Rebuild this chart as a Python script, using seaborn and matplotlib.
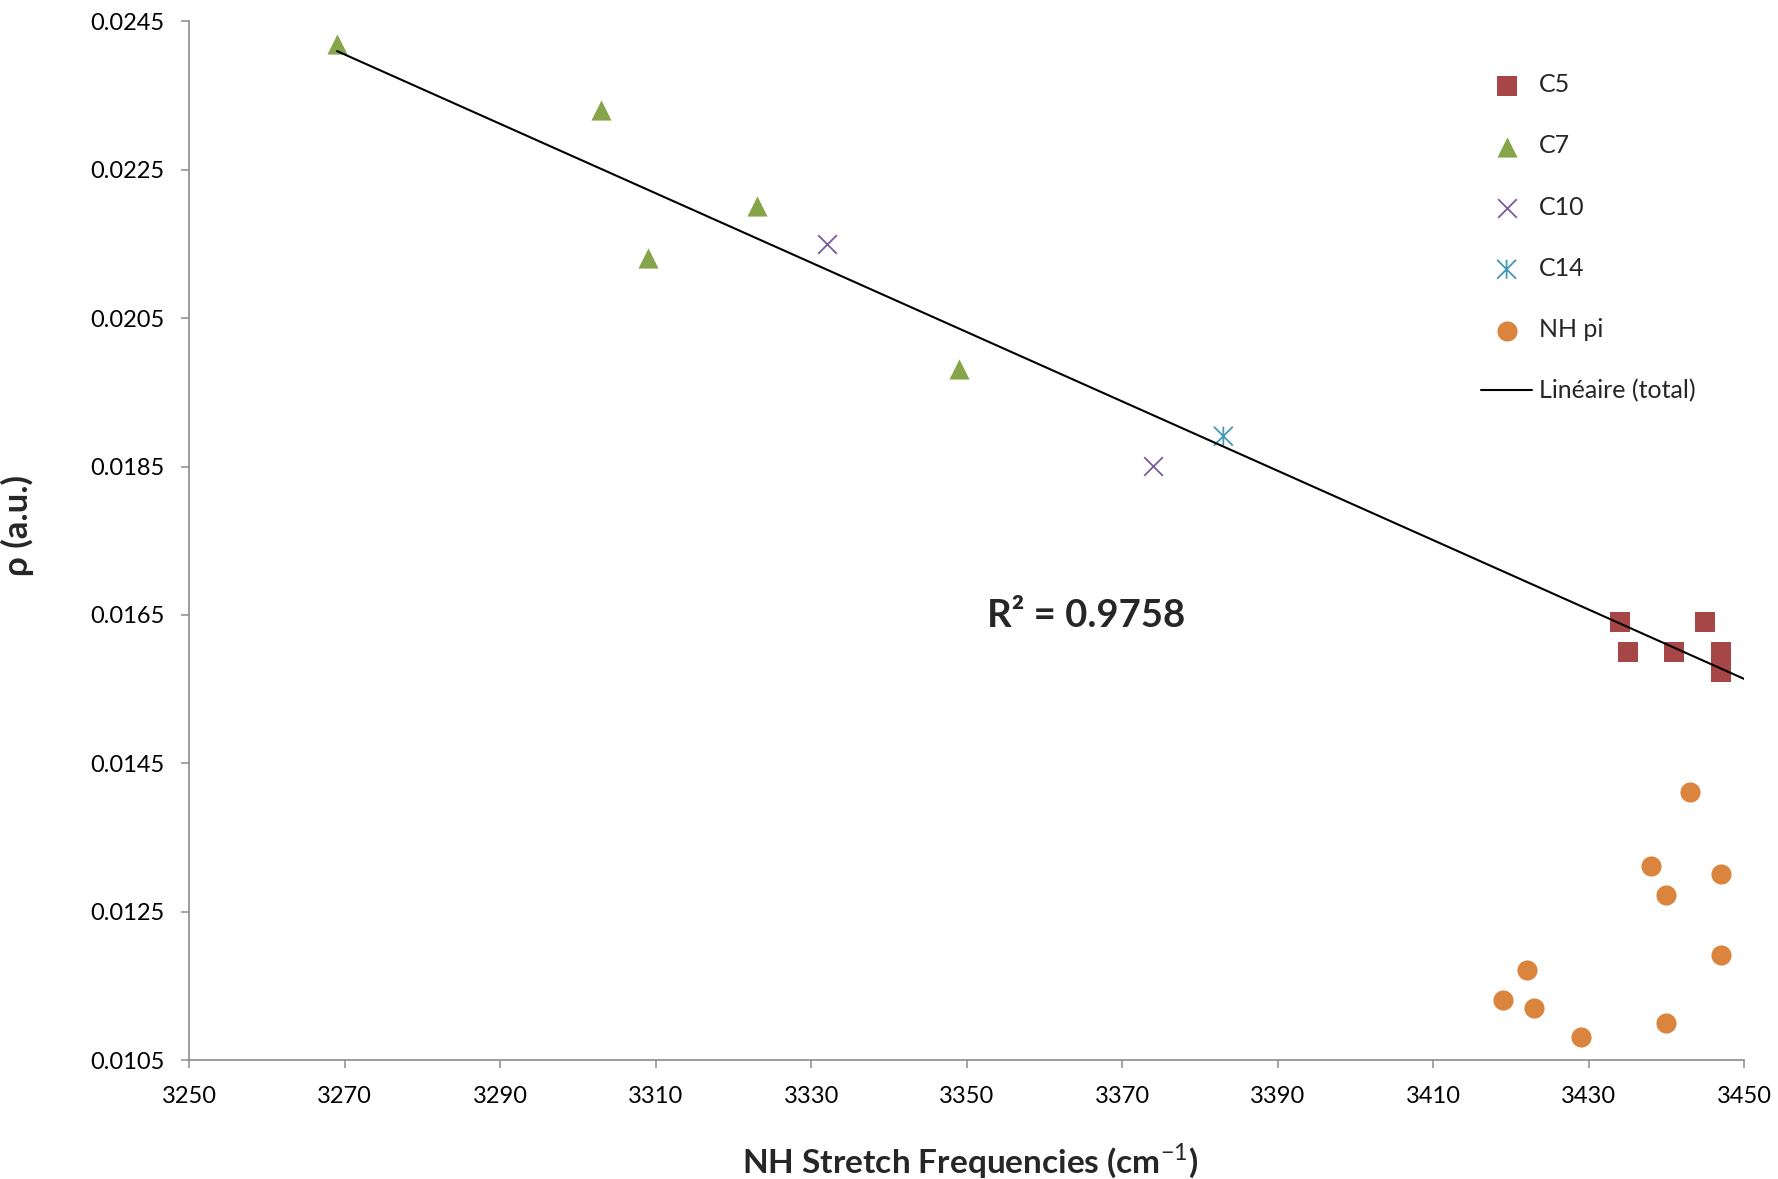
import numpy as np
import matplotlib
matplotlib.use("Agg")
import matplotlib.pyplot as plt
from matplotlib.path import Path
import seaborn as sns

# NH stretch frequency (cm-1) vs electron density rho (a.u.) per H-bond type
c5_x = [3434, 3445, 3435, 3441, 3447, 3447]
c5_y = [0.01641, 0.01641, 0.01600, 0.01600, 0.01600, 0.01573]

c7_x = [3269, 3303, 3323, 3309, 3349]
c7_y = [0.02419, 0.02331, 0.02201, 0.02131, 0.01981]

c10_x = [3332, 3374]
c10_y = [0.02150, 0.01851]

c14_x = [3383]
c14_y = [0.01891]

nhpi_x = [3443, 3438, 3447, 3440, 3447, 3422, 3419, 3423, 3440, 3429]
nhpi_y = [0.01411, 0.01311, 0.01301, 0.01272, 0.01191, 0.01171, 0.01131, 0.01120, 0.01100, 0.01081]

r2_label = "R\u00b2 = 0.9758"

x_ticks = list(range(3250, 3451, 20))
y_ticks = [0.0105, 0.0125, 0.0145, 0.0165, 0.0185, 0.0205, 0.0225, 0.0245]

sns.set_style("white")
plt.rcParams["font.family"] = ["Lato", "DejaVu Sans"]
plt.rcParams["mathtext.fontset"] = "custom"
plt.rcParams["mathtext.rm"] = "Lato"
plt.rcParams["mathtext.bf"] = "Lato:bold"

fig = plt.figure(figsize=(17.78, 11.79), dpi=100)
ax = fig.add_axes([0.1065, 0.1009, 0.8745, 0.8809])

# Excel-style star marker: an X with a vertical bar through it
star = Path(
    [(-0.5, -0.5), (0.5, 0.5), (-0.5, 0.5), (0.5, -0.5), (0.0, -0.5), (0.0, 0.5)],
    [Path.MOVETO, Path.LINETO, Path.MOVETO, Path.LINETO, Path.MOVETO, Path.LINETO],
)

sns.scatterplot(x=c5_x, y=c5_y, marker="s", color="#A64646", s=200,
                linewidth=0, label="C5", ax=ax, zorder=3)
sns.scatterplot(x=c7_x, y=c7_y, marker="^", color="#86A44A", s=210,
                linewidth=0, label="C7", ax=ax, zorder=3)
sns.scatterplot(x=c10_x, y=c10_y, marker="x", color="#7A5C9B", s=180,
                linewidth=1.3, label="C10", ax=ax, zorder=3)
sns.scatterplot(x=c14_x, y=c14_y, marker=star, color="#4298B5",
                facecolor="none", edgecolor="#4298B5", s=185,
                linewidth=1.3, label="C14", ax=ax, zorder=3)
sns.scatterplot(x=nhpi_x, y=nhpi_y, marker="o", color="#DB843D", s=210,
                linewidth=0, label="NH pi", ax=ax, zorder=3)

# Linear trend over all H-bonded conformers (C5, C7, C10, C14)
tot_x = np.array(c5_x + c7_x + c10_x + c14_x, dtype=float)
tot_y = np.array(c5_y + c7_y + c10_y + c14_y, dtype=float)
slope, intercept = np.polyfit(tot_x, tot_y, 1)
fit_x = np.array([tot_x.min(), 3450.0])
fit_y = slope * fit_x + intercept
sns.lineplot(x=fit_x, y=fit_y, color="black", linewidth=1.5,
             label="Lin\u00e9aire (total)", ax=ax, zorder=4)

ax.text(3352.6, 0.01649, r2_label, fontsize=27.5, fontweight="bold",
        ha="left", va="center")

ax.set_xlim(3250, 3450)
ax.set_ylim(0.0105, 0.0245)
ax.set_xticks(x_ticks)
ax.set_yticks(y_ticks)
ax.set_xticklabels([str(v) for v in x_ticks])
ax.set_yticklabels([f"{v:.4f}" for v in y_ticks])

for side in ("top", "right"):
    ax.spines[side].set_visible(False)
for side in ("left", "bottom"):
    ax.spines[side].set_color("#8C8C8C")
    ax.spines[side].set_linewidth(1.2)

ax.tick_params(axis="both", direction="out", length=6, width=1.1,
               color="#8C8C8C", labelsize=17, labelcolor="black")
ax.tick_params(axis="y", pad=12, left=True)
ax.tick_params(axis="x", pad=13, bottom=True)

ax.set_xlabel(r"NH Stretch Frequencies (cm$^{-1}$)", fontsize=24,
              fontweight="bold")
ax.xaxis.set_label_coords(0.502, -0.078)
ax.set_ylabel("\u03c1 (a.u.)", fontsize=25, fontweight="bold",
              family=["Lato", "DejaVu Sans"])
ax.yaxis.set_label_coords(-0.1, 0.515)

handles, labels = ax.get_legend_handles_labels()
ax.legend(handles, labels, loc="upper left", bbox_to_anchor=(0.833, 0.938),
          bbox_transform=fig.transFigure, frameon=False, fontsize=18,
          labelspacing=1.53, handlelength=2.04, handletextpad=0.27,
          borderpad=0, borderaxespad=0)

fig.savefig("out.png", dpi=100)
